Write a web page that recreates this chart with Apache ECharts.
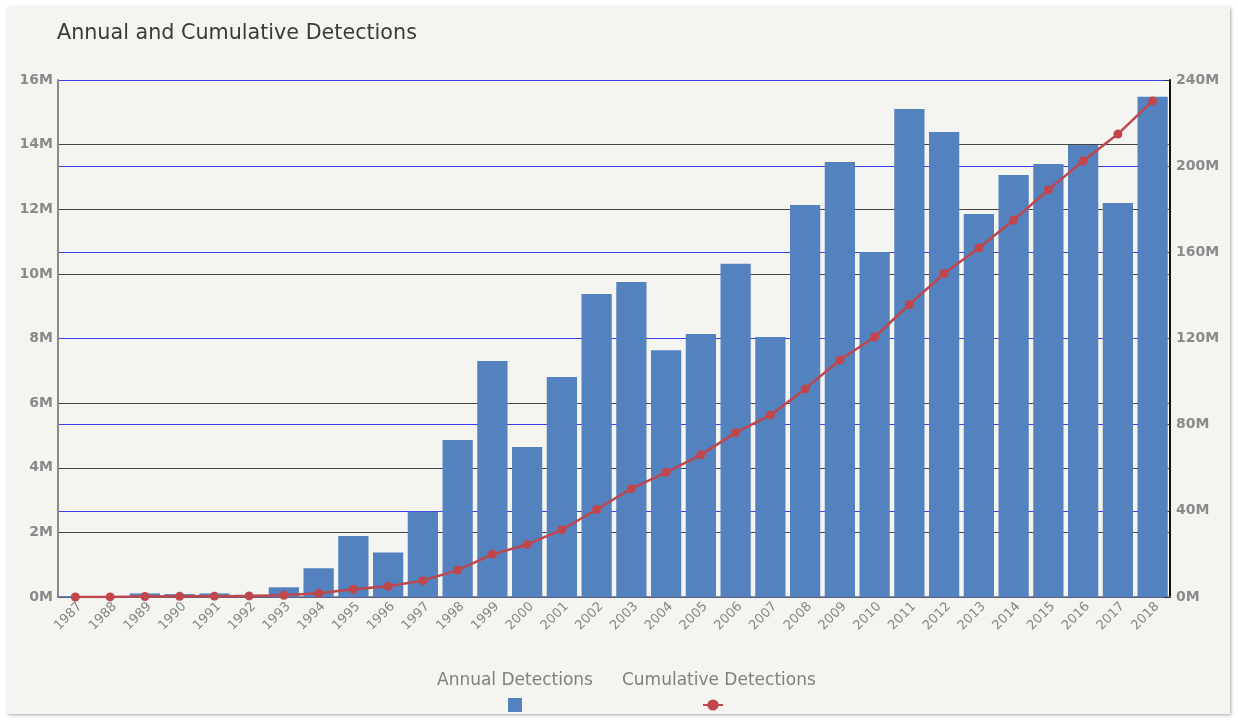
<!DOCTYPE html>
<html>
<head>
<meta charset="utf-8">
<script src="https://cdn.jsdelivr.net/npm/echarts@6/dist/echarts.min.js"></script>
<style>
html,body{margin:0;padding:0;background:#ffffff;width:1238px;height:721px;overflow:hidden;}
#card{position:absolute;left:7px;top:7px;width:1223px;height:707px;background:#f4f4f0;box-shadow:1px 1px 3px rgba(0,0,0,0.35);}
#chart{position:absolute;left:0;top:0;width:1238px;height:721px;}
</style>
</head>
<body>
<div id="card"></div>
<div id="chart"></div>
<script>
const years = ['1987','1988','1989','1990','1991','1992','1993','1994','1995','1996','1997','1998','1999','2000','2001','2002','2003','2004','2005','2006','2007','2008','2009','2010','2011','2012','2013','2014','2015','2016','2017','2018'];
const annual = [0.02,0.03,0.11,0.09,0.11,0.07,0.30,0.89,1.89,1.38,2.64,4.86,7.30,4.64,6.81,9.38,9.75,7.64,8.14,10.31,8.05,12.13,13.46,10.68,15.10,14.39,11.85,13.06,13.40,13.99,12.19,15.48];
const cumulative = [0.02,0.05,0.2,0.3,0.4,0.5,0.8,1.7,3.6,5.0,7.6,12.5,19.8,24.4,31.2,40.6,50.3,57.9,66.0,76.3,84.4,96.6,110.0,120.7,135.8,150.2,162.0,175.0,189.0,202.4,214.9,230.3];
const leftTicks = {min:0, max:16, interval:2};
const rightTicks = {min:0, max:240, interval:40};

const chart = echarts.init(document.getElementById('chart'), null, {renderer:'canvas'});
const lblFont = {color:'#8a8a8a', fontSize:14, fontWeight:'bold', fontFamily:'DejaVu Sans, Verdana, sans-serif'};
chart.setOption({
  backgroundColor:'transparent',
  animation:false,
  title:{text:'Annual and Cumulative Detections', left:57, top:23, padding:0,
    textStyle:{color:'#3a3a3a', fontSize:20.7, fontWeight:'normal', fontFamily:'DejaVu Sans, sans-serif'}},
  grid:{left:58, right:68, top:80, bottom:124, containLabel:false},
  legend:[
    {data:['Annual Detections','Cumulative Detections'], left:432, top:672, padding:0, itemWidth:0, itemHeight:0, itemGap:24,
     icon:'none', selectedMode:false,
     textStyle:{color:'#808080', fontSize:17, fontFamily:'DejaVu Sans, Verdana, sans-serif'}},
    {data:[{name:'Annual Detections', icon:'path://M0,0h10v10h-10z'},{name:'Cumulative Detections'}],
     left:505, top:698, padding:0, itemWidth:20, itemHeight:14, itemGap:180, selectedMode:false,
     formatter:function(){return '';}}
  ],
  xAxis:{type:'category', data:years,
    axisLine:{show:true, lineStyle:{color:'#6a6a6a', width:1.5}},
    axisTick:{show:false},
    axisLabel:{rotate:45, margin:3, verticalAlign:'top', color:'#858585', fontSize:13, fontFamily:'DejaVu Sans, Verdana, sans-serif', interval:0}},
  yAxis:[
    {type:'value', min:leftTicks.min, max:leftTicks.max, interval:leftTicks.interval, position:'left',
     axisLine:{show:true, lineStyle:{color:'#8a8a8a', width:2}},
     axisTick:{show:false},
     splitLine:{show:true, lineStyle:{color:'#444444', width:1}},
     axisLabel:Object.assign({formatter:function(v){return v+'M';}, margin:5}, lblFont)},
    {type:'value', min:rightTicks.min, max:rightTicks.max, interval:rightTicks.interval, position:'right',
     axisLine:{show:true, lineStyle:{color:'#111111', width:2}},
     axisTick:{show:true, inside:true, length:6, lineStyle:{color:'#333333'}},
     splitLine:{show:true, lineStyle:{color:'#3c3cf0', width:1}},
     axisLabel:Object.assign({formatter:function(v){return v+'M';}, margin:6}, lblFont)}
  ],
  series:[
    {name:'Annual Detections', type:'bar', yAxisIndex:0, data:annual, barCategoryGap:'13%',
     itemStyle:{color:'#5482be'}},
    {name:'Cumulative Detections', type:'line', yAxisIndex:1, data:cumulative,
     symbol:'circle', symbolSize:9, itemStyle:{color:'#c0464c'}, lineStyle:{color:'#c0464c', width:2.5}}
  ]
});
</script>
</body>
</html>
